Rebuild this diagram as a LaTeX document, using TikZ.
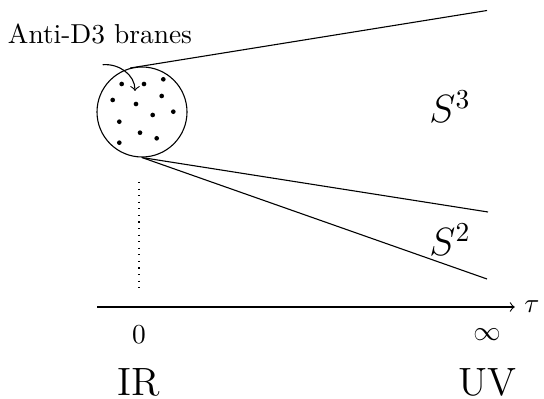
\documentclass[tikz,border=0pt]{standalone}
\usepackage{tikz}
\usetikzlibrary{positioning}

\begin{document}
\begin{tikzpicture}[
    x=0.365pt, y=-0.365pt,
    every path/.style={line width=0.4pt},
    brane/.style={fill, circle, inner sep=0pt, minimum size=1.7pt},
    big/.style={font=\Large}
  ]
    \useasboundingbox (0,0) rectangle (544,399);

    % the throat with its branes
    \node[draw, circle, minimum size=32.85pt, inner sep=0pt] (throat) at (142,112) {};
    \foreach \bx/\by [count=\i] in {121.7/84, 144/84, 163.3/79.3, 112.7/100, 136/104, 161.7/96,
        173.3/111.7, 152.7/115, 119.3/121.7, 140/132.7, 156.7/138.3, 119.3/142.7}
      \node[brane] (d\i) at (\bx,\by) {};

    \node (label) at (100,34) {Anti-D3 branes};
    \coordinate (hit) at (135,91);
    \draw[->] ([xshift=1pt,yshift=-4pt]label.south) to[out=5, in=90] (hit);

    % the cones
    \coordinate (top) at (487,10.5);
    \coordinate (midr) at (488,212);
    \coordinate (lowr) at (487,279);
    \draw (throat.105) -- (top);
    \draw (throat.south) -- (midr);
    \draw (throat.south) -- (lowr);

    \node[big] (s3) at (450,107) {$S^3$};
    \node[big] (s2) at (450,240) {$S^2$};

    % axis
    \coordinate (ax0) at (97,307);
    \node (tau) at (532,307) {$\tau$};
    \draw[->] (ax0) -- (tau.west);
    \coordinate (dtop) at (139,182);
    \coordinate (dbot) at (139,293);
    \draw[dotted] (dtop) -- (dbot);

    \node (zero) at (139,335) {$0$};
    \node (inf) at (487,335) {$\infty$};
    \node[big] (ir) at (139,382) {IR};
    \node[big] (uv) at (487,382) {UV};
  \end{tikzpicture}
\end{document}
